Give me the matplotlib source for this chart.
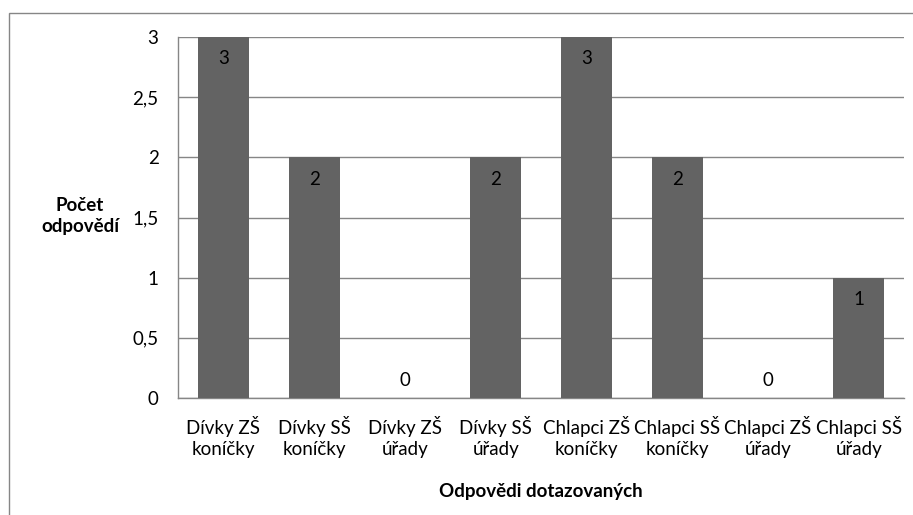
import matplotlib
matplotlib.use("Agg")
import matplotlib.pyplot as plt
from matplotlib.patches import Rectangle

categories = ["Dívky ZŠ\nkoníčky", "Dívky SŠ\nkoníčky", "Dívky ZŠ\núřady", "Dívky SŠ\núřady",
              "Chlapci ZŠ\nkoníčky", "Chlapci SŠ\nkoníčky", "Chlapci ZŠ\núřady", "Chlapci SŠ\núřady"]
values = [3, 2, 0, 2, 3, 2, 0, 1]
yticks = [0, 0.5, 1, 1.5, 2, 2.5, 3]
yticklabels = ["0", "0,5", "1", "1,5", "2", "2,5", "3"]

plt.rcParams['font.family'] = ['Lato', 'DejaVu Sans']
FS = 13.5

W, H = 913, 515
fig = plt.figure(figsize=(W / 100, H / 100), dpi=100)
ax = fig.add_axes([178 / W, 1 - 398 / H, (904 - 178) / W, (398 - 37) / H])

# outer chart border (extends past image edges)
fig.patches.append(Rectangle((8.5 / W, -0.1), 1.2, 1 - 12.5 / H + 0.1, transform=fig.transFigure,
                             fill=False, edgecolor="#868686", linewidth=1.0))

x = list(range(len(categories)))
ax.bar(x, values, width=0.56, color="#636363", zorder=3)
ax.set_xlim(-0.5, len(categories) - 0.5)
ax.set_ylim(0, 3)
ax.set_yticks(yticks)
ax.set_yticklabels(yticklabels)
ax.set_xticks(x)
ax.set_xticklabels(categories, linespacing=1.3)
ax.tick_params(axis='both', length=0, labelsize=FS, colors="black")
ax.tick_params(axis='y', pad=14)
ax.tick_params(axis='x', pad=13)
ax.yaxis.grid(True, color="#868686", linewidth=1.0, zorder=0)
for s in ["top", "right"]:
    ax.spines[s].set_visible(False)
for s in ["left", "bottom"]:
    ax.spines[s].set_color("#868686")
    ax.spines[s].set_linewidth(1.0)

for xi, v in zip(x, values):
    off = -22 if v > 0 else 18
    ax.annotate(str(v), (xi, v), xytext=(0, off), textcoords="offset pixels",
                ha="center", va="center", fontsize=FS, color="black", zorder=4)

fig.text(80 / W, 1 - 216 / H, "Počet\nodpovědí", ha="center", va="center",
         fontsize=FS, fontweight="bold", linespacing=1.3)
fig.text(541 / W, 1 - 492 / H, "Odpovědi dotazovaných", ha="center", va="center",
         fontsize=FS, fontweight="bold")

fig.savefig("out.png", dpi=100)
